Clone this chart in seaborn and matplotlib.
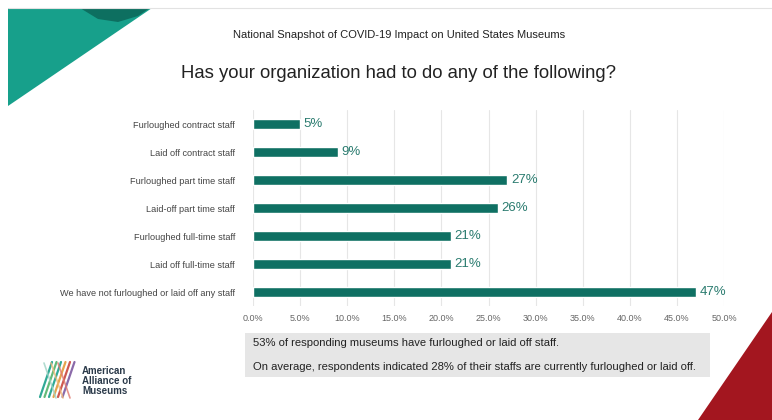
import matplotlib
matplotlib.use("Agg")
import matplotlib.pyplot as plt
from matplotlib.patches import Polygon, Rectangle
import seaborn as sns
import pandas as pd

categories = [
    "Furloughed contract staff",
    "Laid off contract staff",
    "Furloughed part time staff",
    "Laid-off part time staff",
    "Furloughed full-time staff",
    "Laid off full-time staff",
    "We have not furloughed or laid off any staff",
]
values = [0.05, 0.09, 0.27, 0.26, 0.21, 0.21, 0.47]
value_labels = ["5%", "9%", "27%", "26%", "21%", "21%", "47%"]
xticks = [0.0, 0.05, 0.10, 0.15, 0.20, 0.25, 0.30, 0.35, 0.40, 0.45, 0.50]
xtick_labels = ["0.0%", "5.0%", "10.0%", "15.0%", "20.0%", "25.0%", "30.0%",
                "35.0%", "40.0%", "45.0%", "50.0%"]
supertitle = "National Snapshot of COVID-19 Impact on United States Museums"
title = "Has your organization had to do any of the following?"
notes = ["53% of responding museums have furloughed or laid off staff.",
         "On average, respondents indicated 28% of their staffs are currently furloughed or laid off."]

sns.set_theme(style="white")
plt.rcParams['font.family'] = ['Liberation Sans', 'DejaVu Sans']

W, H = 772, 420
fig = plt.figure(figsize=(W / 100, H / 100), dpi=100)
fig.patch.set_facecolor("white")

def fx(px):
    return px / W

def fy(py):
    return 1 - py / H

def poly(pts, color, z=0):
    p = Polygon([(fx(x), fy(y)) for x, y in pts], closed=True, transform=fig.transFigure,
                facecolor=color, edgecolor="none", zorder=z)
    fig.patches.append(p)

# top thin border line
fig.add_artist(plt.Line2D([fx(8), fx(772)], [fy(8), fy(8)], transform=fig.transFigure,
                          color="#e2e2e2", lw=0.8))
# Teal triangle top-left
poly([(8, 8), (152, 8), (8, 106)], "#17a08b")
poly([(80, 8), (150, 8), (138, 16), (118, 22), (98, 19)], "#0d6f60")
# Red triangle bottom-right
poly([(772, 312), (772, 420), (698, 420)], "#a3161f")

# Main axes
df = pd.DataFrame({"category": categories, "value": values})
ax = fig.add_axes([fx(253), fy(306), fx(724) - fx(253), (306 - 110) / H])
sns.barplot(data=df, y="category", x="value", color="#0f7063", width=0.38,
            saturation=1, ax=ax, orient="h")
ax.set_xlim(0, 0.5)
ax.set_xticks(xticks)
ax.set_xticklabels(xtick_labels, fontsize=6.5, color="#666666")
ax.tick_params(axis="y", labelsize=6.6, labelcolor="#444444", length=0, pad=13)
ax.tick_params(axis="x", length=0, pad=6)
ax.set_xlabel("")
ax.set_ylabel("")
ax.grid(axis="x", color="#e6e6e6", lw=0.8)
ax.set_axisbelow(True)
for s in ax.spines.values():
    s.set_visible(False)
for i, (v, lab) in enumerate(zip(values, value_labels)):
    ax.text(v + 0.004, i, lab, va="center", ha="left", fontsize=9.5,
            color="#2a7b6f")

# Titles
fig.text(fx(399), fy(35), supertitle, ha="center", va="center", fontsize=8, color="#222222")
fig.text(fx(398), fy(73), title, ha="center", va="center", fontsize=13.3, color="#222222")

# Notes box
fig.patches.append(Rectangle((fx(245), fy(377)), fx(710) - fx(245), (377 - 333) / H,
                             transform=fig.transFigure, facecolor="#e6e6e6", edgecolor="none"))
fig.text(fx(253), fy(343), notes[0], ha="left", va="center", fontsize=8.1, color="#222222")
fig.text(fx(253), fy(367), notes[1], ha="left", va="center", fontsize=8.1, color="#222222")

# Logo
logo_cols = ["#1aa08a", "#53b36b", "#1aa08a", "#e39a3b", "#c9463d", "#7e5aa0"]
for k, c in enumerate(logo_cols):
    x0 = 40 + k * 4.5
    fig.add_artist(plt.Line2D([fx(x0), fx(x0 + 12)], [fy(397), fy(362)],
                              transform=fig.transFigure, color=c, lw=1.6, alpha=0.9))
for k, c in enumerate(["#9fd3c5", "#f0b978", "#e07a70"]):
    x0 = 44 + k * 7
    fig.add_artist(plt.Line2D([fx(x0), fx(x0 + 12)], [fy(363), fy(398)],
                              transform=fig.transFigure, color=c, lw=1.2, alpha=0.8))
fig.text(fx(82), fy(381), "American\nAlliance of\nMuseums", ha="left", va="center",
         fontsize=7, color="#2b3a4a", fontweight="bold", linespacing=1.05)

fig.savefig("out.png", dpi=100)
